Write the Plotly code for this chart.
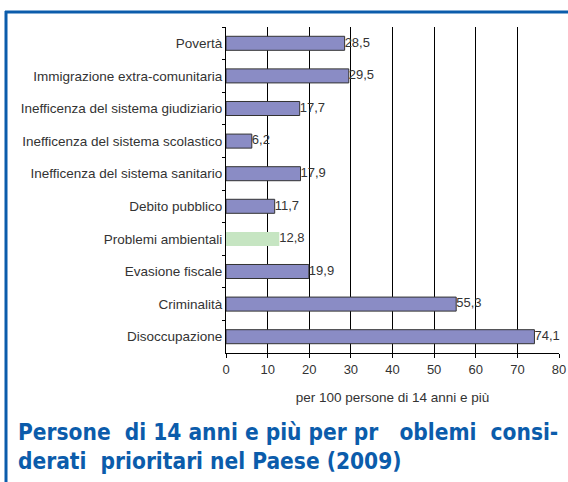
import plotly.graph_objects as go

# data
categories = ['Povertà', 'Immigrazione extra-comunitaria', 'Inefficenza del sistema giudiziario',
              'Inefficenza del sistema scolastico', 'Inefficenza del sistema sanitario',
              'Debito pubblico', 'Problemi ambientali', 'Evasione fiscale',
              'Criminalità', 'Disoccupazione']
values = [28.5, 29.5, 17.7, 6.2, 17.9, 11.7, 12.8, 19.9, 55.3, 74.1]
highlight = 'Problemi ambientali'
x_ticks = [0, 10, 20, 30, 40, 50, 60, 70, 80]

W, H = 568, 482
ml, mr, mt, mb = 226, 9, 27, 129
pw = W - ml - mr
ph = H - mt - mb

purple = '#8a8cc5'
green = '#c6e5c2'
blue = '#0b5cab'

colors = [green if c == highlight else purple for c in categories]
line_w = [0 if c == highlight else 1 for c in categories]
labels = [f'{v:.1f}'.replace('.', ',') for v in values]

fig = go.Figure()
fig.add_trace(go.Bar(x=values, y=categories, orientation='h', width=0.43,
                     marker=dict(color=colors, line=dict(color='#333333', width=line_w)),
                     hoverinfo='skip'))
fig.add_trace(go.Scatter(x=values, y=categories, mode='text', text=labels,
                         textposition='middle right',
                         textfont=dict(family='Liberation Sans, Arial', size=13, color='#333333'),
                         cliponaxis=False, hoverinfo='skip'))

fig.update_layout(
    width=W, height=H,
    margin=dict(l=ml, r=mr, t=mt, b=mb, autoexpand=False),
    paper_bgcolor='white', plot_bgcolor='white',
    showlegend=False, bargap=0.5,
    font=dict(family='Liberation Sans, Arial', size=13, color='#333333'),
    title=dict(text='Persone\u00a0 di 14 anni e più per pr\u00a0\u00a0 oblemi\u00a0 consi-<br>derati\u00a0 prioritari nel Paese (2009)',
               x=18 / W, xref='container', xanchor='left',
               y=1 - 440 / H, yref='container', yanchor='top',
               font=dict(family='DejaVu Sans Condensed, Liberation Sans Narrow, Liberation Sans', size=22.5,
                         color=blue, weight='bold')),
)

fig.update_xaxes(range=[0, 80], tickvals=x_ticks, showgrid=True, gridcolor='black', gridwidth=1,
                 showline=True, linecolor='black', linewidth=1, ticks='outside', ticklen=4,
                 tickcolor='black', zeroline=False, fixedrange=True, automargin=False,
                 tickfont=dict(size=13, color='#333333'),
                 title=dict(text='per 100 persone di 14 anni e più', standoff=16,
                            font=dict(size=13.5, color='#333333')))
fig.update_yaxes(categoryorder='array', categoryarray=categories, autorange='reversed',
                 showline=True, linecolor='black', linewidth=1, ticks='outside', ticklen=3,
                 tickcolor='black', tickson='boundaries', showgrid=False, fixedrange=True,
                 automargin=False, tickfont=dict(size=13.5, color='#333333'))

# blue frame on top and left, placed in paper coordinates
def px_x(x):
    return (x - ml) / pw

def px_y(y):
    return 1 - (y - mt) / ph

fig.add_shape(type='line', xref='paper', yref='paper', x0=px_x(5), x1=px_x(W + 2),
              y0=px_y(12), y1=px_y(12), line=dict(color=blue, width=3))
fig.add_shape(type='line', xref='paper', yref='paper', x0=px_x(6), x1=px_x(6),
              y0=px_y(11), y1=px_y(H + 2), line=dict(color=blue, width=3))

# page body has a default margin; drop it so the figure fills the window
fig.write_html('out.html', config={'displayModeBar': False},
               post_script="document.body.style.margin='0';")
